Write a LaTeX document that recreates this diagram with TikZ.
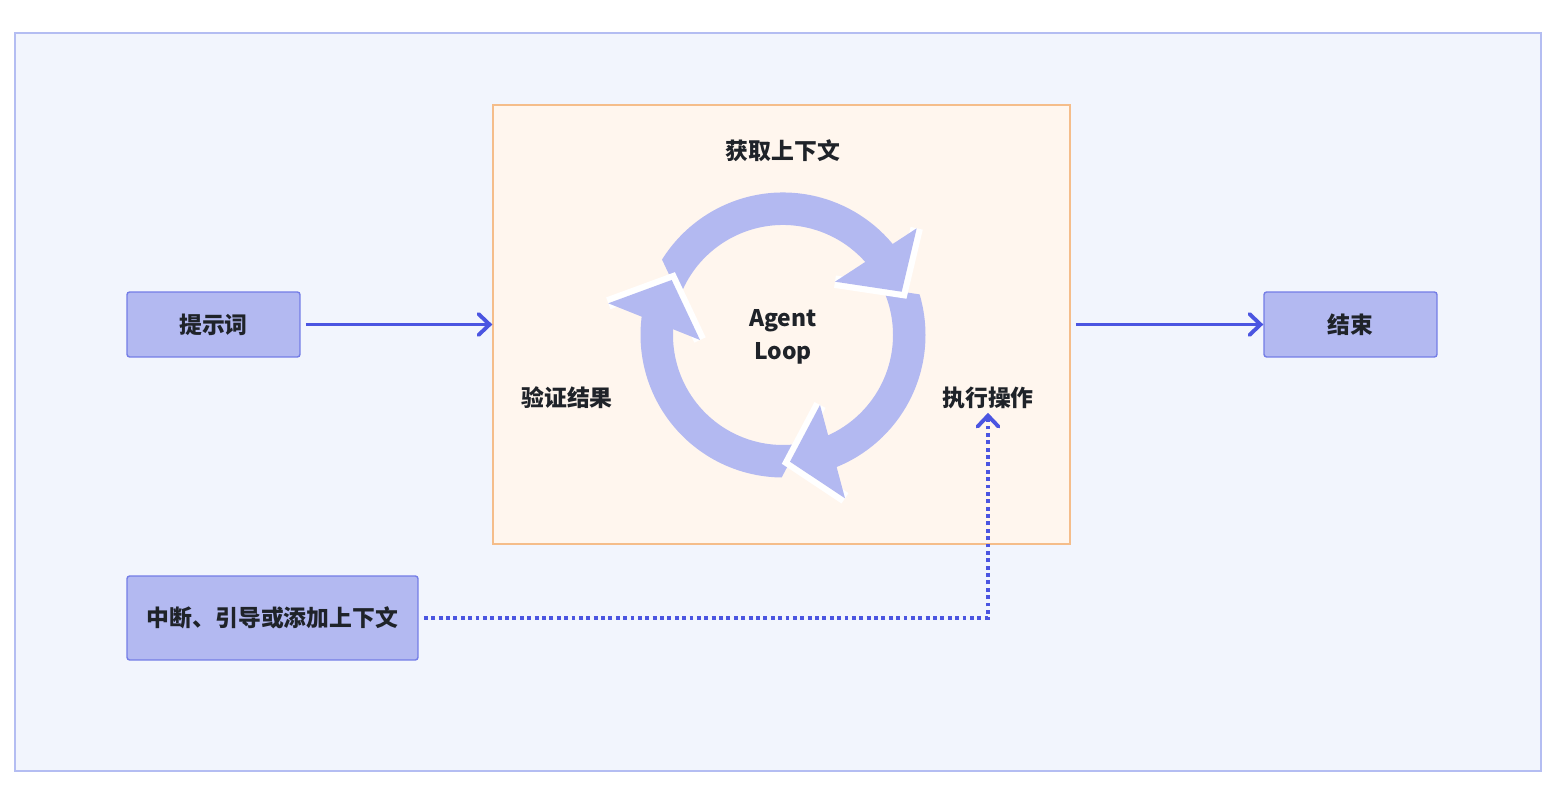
\documentclass[tikz,border=0pt]{standalone}
\usepackage{fontspec}
\setmainfont{Noto Sans CJK SC}
\usetikzlibrary{arrows.meta}
\definecolor{pagebg}{HTML}{F2F5FD}
\definecolor{pageline}{HTML}{B4BDF2}
\definecolor{loopbg}{HTML}{FFF6EE}
\definecolor{loopline}{HTML}{F5BD8A}
\definecolor{lavender}{HTML}{B3B9F1}
\definecolor{boxline}{HTML}{747DE6}
\definecolor{flowblue}{HTML}{4B55E1}
\definecolor{ink}{HTML}{1F2329}
\begin{document}
\begin{tikzpicture}[x=0.02cm, y=-0.02cm,
  every node/.style={text=ink, font=\bfseries\fontsize{13pt}{19pt}\selectfont},
  main box/.style={draw=boxline, fill=lavender, rounded corners=1.5pt, line width=0.8pt, inner sep=0pt},
  loop frame/.style={draw=loopline, fill=loopbg, line width=0.8pt, minimum width=11.54cm, minimum height=8.78cm, inner sep=0pt},
  flow/.style={draw=flowblue, line width=2.2pt, shorten <=3pt, -{Straight Barb[length=0.22cm, width=0.42cm, line cap=round]}},
  dotted flow/.style={flow, dash pattern=on 2.2pt off 2pt},
  band/.style={draw=lavender, line width=0.65cm},
  head rim/.style={draw=white, line width=0.25cm, line join=miter}]
\useasboundingbox (0,0) rectangle (1556,786);
\draw[draw=pageline, fill=pagebg, line width=0.7pt] (15,33) rectangle (1541,771);
\node[loop frame] (frame) at (781.5,324.5) {};
\node[main box, minimum width=3.46cm, minimum height=1.3cm] (prompt) at (213.5,324.5) {提示词};
\node[main box, minimum width=3.46cm, minimum height=1.3cm] (finish) at (1350.5,324.5) {结束};
\node[main box, minimum width=5.82cm, minimum height=1.68cm] (interrupt) at (272.5,618) {中断、引导或添加上下文};
% agent loop ring
\begin{scope}[shift={(783,335)}, y=0.02cm]
\begin{scope}
\clip (-83,-5) -- (-168,175) -- (250,175) -- (250,-5) -- cycle;
\draw[band] (165:126.25) arc[start angle=165, end angle=35, radius=126.25];
\end{scope}
\begin{scope}
\clip (0,60) -- (52,53.3) -- (200,31.1) -- (200,-250) -- (0,-250) -- cycle;
\draw[band] (30:126.25) arc[start angle=30, end angle=-72, radius=126.25];
\end{scope}
\begin{scope}
\clip (37,-70) -- (-53,-240) -- (-250,-240) -- (-250,100) -- (37,100) -- cycle;
\draw[band] (-80:126.25) arc[start angle=-80, end angle=-190, radius=126.25];
\end{scope}
\draw[head rim] (133.7,106.7) -- (118.7,43.3) -- (52,53.3);
\fill[lavender] (133.7,106.7) -- (118.7,43.3) -- (52,53.3) -- cycle;
\draw[head rim] (62,-163.3) -- (7,-126.7) -- (37,-70);
\fill[lavender] (62,-163.3) -- (7,-126.7) -- (37,-70) -- cycle;
\draw[head rim] (-174.7,31.7) -- (-111.3,55) -- (-83,-5);
\fill[lavender] (-174.7,31.7) -- (-111.3,55) -- (-83,-5) -- cycle;
\end{scope}
\begin{scope}[every node/.append style={inner sep=2pt}]
\node (fetch) at (783,151) {获取上下文};
\node[align=center] (agent) at (783,337) {Agent\\Loop};
\node (verify) at (567,398) {验证结果};
\node (exec) at (988,398) {执行操作};
\end{scope}
\path[flow]
  (prompt) edge (frame)
  (frame) edge (finish)
  ;
\draw[dotted flow] (interrupt.east) -| (exec.south);
\end{tikzpicture}
\end{document}
